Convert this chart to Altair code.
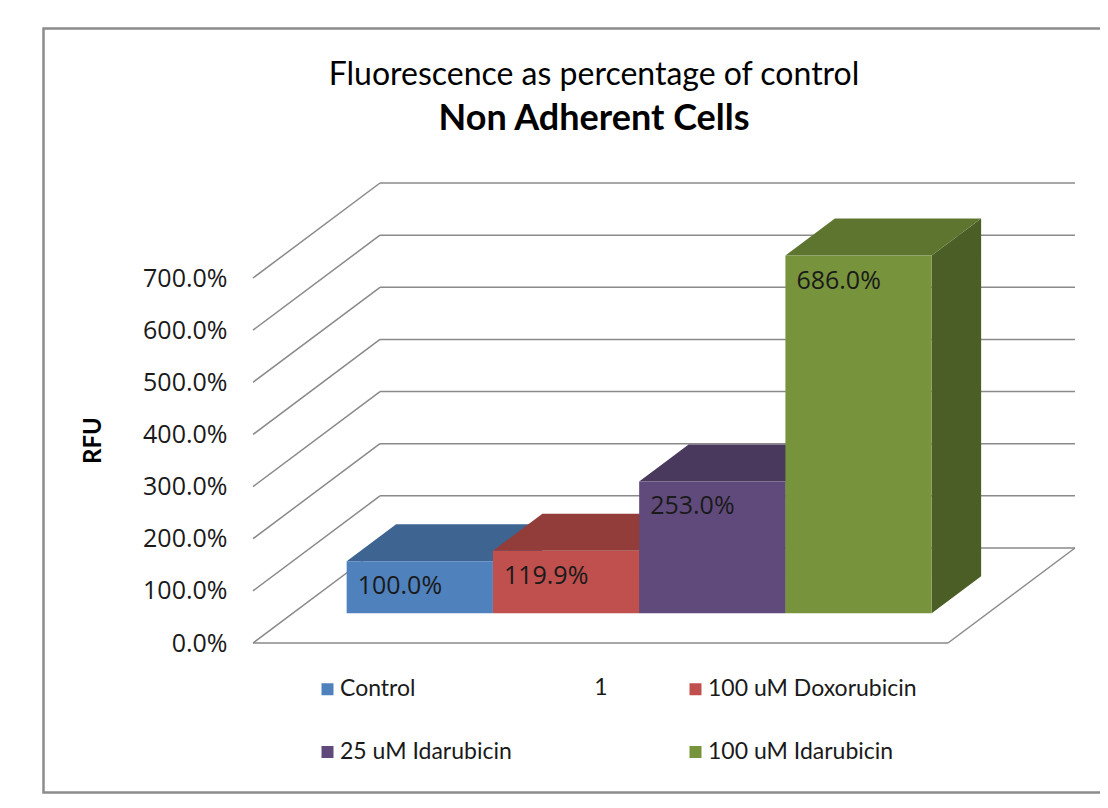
import altair as alt
import pandas as pd

# ---------------- data ----------------
categories = ["Control", "100 uM Doxorubicin", "25 uM Idarubicin", "100 uM Idarubicin"]
values = [1.000, 1.199, 2.530, 6.860]          # fraction of control (1.0 = 100 %)
front_colors = ["#4F81BD", "#C0504D", "#604A7B", "#77933C"]
top_colors = ["#3E6492", "#923D3A", "#48395D", "#5E7530"]
side_colors = ["#355680", "#7C3331", "#3C2F4E", "#4B5E26"]
legend_order = ["Control", "25 uM Idarubicin", "100 uM Doxorubicin", "100 uM Idarubicin"]
y_ticks = [0, 1, 2, 3, 4, 5, 6, 7]
category_label = ["1"]
title_line1 = ["Fluorescence as percentage of control"]
title_line2 = ["Non Adherent Cells"]
y_title = "RFU"

# ---------------- layout (page pixels) ----------------
VIEW_LEFT, VIEW_TOP, VIEW_RIGHT, VIEW_BOTTOM = 42, 150, 1100, 790
W = VIEW_RIGHT - VIEW_LEFT
H = VIEW_BOTTOM - VIEW_TOP
ZERO_Y = 643            # page y of 0 % at the front edge
PX_PER_UNIT_Y = 52.14   # pixels per 100 %
FLOOR_LEFT = 253        # page x of the front-left floor corner
SLOT_PX = 146.25        # pixels per bar slot
FLOOR_GAP = 0.369       # slots between floor edge and first bar
FLOOR_SLOTS = 4.752     # floor width in slots
DEPTH_DX_PX, DEPTH_DY_PX = 127, 95
BAR_D0, BAR_D1 = 0.3126, 0.7021


def u_of(px):
    return (px - FLOOR_LEFT) / SLOT_PX - FLOOR_GAP


def v_of(py):
    return (ZERO_Y - py) / PX_PER_UNIT_Y


DX = DEPTH_DX_PX / SLOT_PX
DY = DEPTH_DY_PX / PX_PER_UNIT_Y
FL = -FLOOR_GAP
FR = FLOOR_SLOTS - FLOOR_GAP

xs = alt.Scale(domain=[u_of(VIEW_LEFT), u_of(VIEW_RIGHT)], nice=False, zero=False)
ys = alt.Scale(domain=[v_of(VIEW_BOTTOM), v_of(VIEW_TOP)], nice=False, zero=False)

y_axis = alt.Axis(
    values=y_ticks, format=".1%", ticks=False, domain=False, grid=False,
    labelFont="Open Sans", labelFontSize=25, labelColor="#1a1a1a", labelPadding=0,
    offset=-(227 - VIEW_LEFT), title=y_title, titleFont="Lato", titleFontSize=24,
    titleFontWeight="bold", titleColor="#000000", titleX=93 - 227, titleY=440 - VIEW_TOP,
    titleAngle=270, titleAlign="center", titleBaseline="middle", labelOverlap=False,
)

# ---------------- grid / walls ----------------
grid_rows = []
for k in y_ticks:
    grid_rows.append({"x": FL, "y": k, "x2": FL + DX, "y2": k + DY})
    grid_rows.append({"x": FL + DX, "y": k + DY, "x2": FR + DX, "y2": k + DY})
grid_rows.append({"x": FL, "y": 0, "x2": FR, "y2": 0})
grid_rows.append({"x": FR, "y": 0, "x2": FR + DX, "y2": DY})
grid_df = pd.DataFrame(grid_rows)

grid = alt.Chart(grid_df).mark_rule(color="#8a8a8a", strokeWidth=1.5).encode(
    x=alt.X("x:Q", scale=xs, axis=None),
    x2="x2:Q",
    y=alt.Y("y:Q", scale=ys, axis=y_axis),
    y2="y2:Q",
)

# ---------------- bars ----------------
front_rows, top_rows, side_rows = [], [], []
for i, (cat, v) in enumerate(zip(categories, values)):
    u0, u1 = i, i + 1
    front_rows.append({"category": cat, "value": v,
                       "x": u0 + DX * BAR_D0, "x2": u1 + DX * BAR_D0,
                       "y": DY * BAR_D0, "y2": v + DY * BAR_D0})
    for d in (BAR_D0, BAR_D1):
        top_rows.append({"category": cat, "fill": top_colors[i],
                         "y": v + DY * d, "x": u0 + DX * d, "x2": u1 + DX * d})
        side_rows.append({"category": cat, "fill": side_colors[i],
                          "x": u1 + DX * d, "y": DY * d, "y2": v + DY * d})
front_df = pd.DataFrame(front_rows)
top_df = pd.DataFrame(top_rows)
side_df = pd.DataFrame(side_rows)

sides = alt.Chart(side_df).mark_area(orient="vertical").encode(
    x=alt.X("x:Q", scale=xs, axis=None, stack=None),
    y=alt.Y("y:Q", scale=ys, axis=y_axis, stack=None),
    y2="y2:Q",
    fill=alt.Fill("fill:N", scale=None),
    detail="category:N",
)

tops = alt.Chart(top_df).mark_area(orient="horizontal").encode(
    y=alt.Y("y:Q", scale=ys, axis=y_axis, stack=None),
    x=alt.X("x:Q", scale=xs, axis=None, stack=None),
    x2="x2:Q",
    fill=alt.Fill("fill:N", scale=None),
    detail="category:N",
)

legend = alt.Legend(
    orient="none", legendX=316 - VIEW_LEFT, legendY=677.5 - VIEW_TOP, columns=2,
    columnPadding=172, rowPadding=39, symbolType="square", symbolSize=144,
    symbolStrokeWidth=0, labelFont="Lato", labelFontSize=23, labelColor="#1a1a1a",
    labelOffset=1, title=None, padding=0, labelLimit=400, values=legend_order,
)

fronts = alt.Chart(front_df).mark_rect().encode(
    x=alt.X("x:Q", scale=xs, axis=None),
    x2="x2:Q",
    y=alt.Y("y:Q", scale=ys, axis=y_axis),
    y2="y2:Q",
    color=alt.Color("category:N", scale=alt.Scale(domain=categories, range=front_colors),
                    legend=legend),
)

labels = alt.Chart(front_df).mark_text(
    align="left", baseline="middle", dx=11, dy=25, font="Open Sans", fontSize=25,
    color="#1a1a1a",
).encode(
    x=alt.X("x:Q", scale=xs, axis=None),
    y=alt.Y("y2:Q", scale=ys, axis=y_axis),
    text=alt.Text("value:Q", format=".1%"),
)

cat_text = alt.Chart(pd.DataFrame({"t": category_label})).mark_text(
    font="Lato", fontSize=23, color="#1a1a1a", align="center", baseline="middle",
).encode(x=alt.value(601 - VIEW_LEFT), y=alt.value(688 - VIEW_TOP), text="t:N")

title1 = alt.Chart(pd.DataFrame({"t": title_line1})).mark_text(
    font="Lato", fontSize=32, color="#000000", align="center", baseline="alphabetic",
).encode(x=alt.value(594 - VIEW_LEFT), y=alt.value(85 - VIEW_TOP), text="t:N")

title2 = alt.Chart(pd.DataFrame({"t": title_line2})).mark_text(
    font="Lato", fontSize=36, fontWeight="bold", color="#000000", align="center",
    baseline="alphabetic",
).encode(x=alt.value(594 - VIEW_LEFT), y=alt.value(130 - VIEW_TOP), text="t:N")

border = alt.Chart(pd.DataFrame({"b": [0]})).mark_rect(
    filled=False, stroke="#8c8c8c", strokeWidth=2.5,
).encode(
    x=alt.value(43.5 - VIEW_LEFT), x2=alt.value(1125 - VIEW_LEFT),
    y=alt.value(28.5 - VIEW_TOP), y2=alt.value(792.5 - VIEW_TOP),
)

chart = alt.layer(
    border, grid, sides, tops, fronts, labels, cat_text, title1, title2
).properties(
    width=W, height=H,
    autosize=alt.AutoSizeParams(type="none"),
    padding={"left": VIEW_LEFT - 8, "top": VIEW_TOP - 8, "right": 0, "bottom": 4},
    background="white",
).configure_view(stroke=None)

chart.save("out.html", embed_options={"renderer": "svg", "actions": False})
